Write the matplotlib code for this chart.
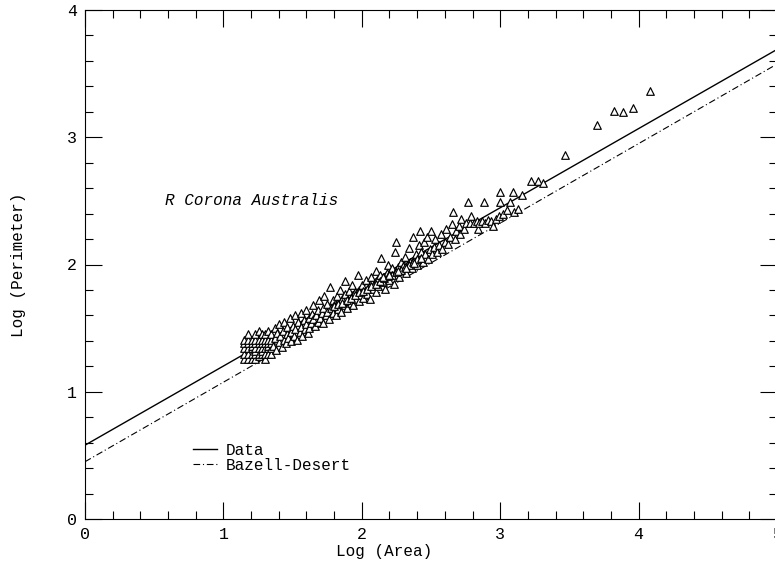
import numpy as np
import matplotlib
matplotlib.use("Agg")
import matplotlib.pyplot as plt

# log(area), log(perimeter) of the cloud boundaries
log_area = [
    # small clouds, quantised grid
    1.146, 1.146, 1.146, 1.146, 1.146,
    1.176, 1.176, 1.176, 1.176, 1.176, 1.176,
    1.204, 1.204, 1.204, 1.204, 1.204, 1.204,
    1.230, 1.230, 1.230, 1.230, 1.230, 1.230, 1.230,
    1.255, 1.255, 1.255, 1.255, 1.255, 1.255,
    1.279, 1.279, 1.279, 1.279, 1.279, 1.279,
    1.301, 1.301, 1.301, 1.301, 1.301, 1.301,
    1.322, 1.322, 1.322, 1.322, 1.322, 1.322,
    1.342, 1.342, 1.342, 1.342, 1.342,
    # 1.36 - 1.62
    1.36, 1.37, 1.37, 1.38, 1.39, 1.40, 1.40, 1.41, 1.42, 1.43, 1.44, 1.44,
    1.45, 1.46, 1.46, 1.47, 1.48, 1.49, 1.49, 1.50, 1.51, 1.52, 1.52, 1.53,
    1.54, 1.55, 1.56, 1.56, 1.57, 1.58, 1.59, 1.60, 1.60, 1.61, 1.62,
    # 1.62 - 2.0
    1.62, 1.63, 1.64, 1.65, 1.65, 1.66, 1.67, 1.68, 1.68, 1.69, 1.70, 1.71,
    1.72, 1.72, 1.73, 1.74, 1.75, 1.75, 1.76, 1.77, 1.78, 1.79, 1.79, 1.80,
    1.81, 1.82, 1.83, 1.84, 1.84, 1.85, 1.86, 1.87, 1.88, 1.88, 1.89, 1.90,
    1.91, 1.92, 1.93, 1.93, 1.94, 1.95, 1.96, 1.97, 1.98, 1.98, 1.99,
    # 2.0 - 2.5
    2.00, 2.01, 2.02, 2.03, 2.04, 2.05, 2.06, 2.07, 2.08, 2.09, 2.10, 2.10,
    2.11, 2.12, 2.13, 2.14, 2.15, 2.16, 2.17, 2.18, 2.19, 2.20, 2.21, 2.22,
    2.23, 2.24, 2.25, 2.25, 2.26, 2.27, 2.28, 2.29, 2.30, 2.31, 2.32, 2.33,
    2.34, 2.35, 2.36, 2.37, 2.38, 2.39, 2.40, 2.41, 2.42, 2.42, 2.43, 2.44,
    2.45, 2.46, 2.47, 2.48, 2.49, 2.50,
    # dense band just under the fit
    1.80, 1.83, 1.86, 1.89, 1.92, 1.95, 1.98, 2.01, 2.04, 2.07, 2.10, 2.13,
    2.16, 2.19, 2.22, 2.25, 2.28, 2.31, 2.34, 2.37, 2.40, 2.43,
    2.15, 2.20, 2.26, 2.32, 2.38,
    # 2.5 - 3.2
    2.51, 2.52, 2.53, 2.54, 2.56, 2.57, 2.58, 2.60, 2.61, 2.62, 2.64, 2.65,
    2.66, 2.67, 2.68, 2.70, 2.71, 2.72, 2.74, 2.75, 2.77, 2.78, 2.79, 2.81,
    2.83, 2.84, 2.85, 2.87, 2.88, 2.89, 2.91, 2.93, 2.95, 2.97, 2.99, 3.00,
    3.00, 3.02, 3.05, 3.07, 3.09, 3.10, 3.13, 3.16,
    # largest clouds
    3.225, 3.27, 3.31, 3.47, 3.70, 3.82, 3.89, 3.96, 4.08,
]
log_perim = [
    1.26, 1.30, 1.34, 1.38, 1.41,
    1.26, 1.30, 1.34, 1.38, 1.41, 1.45,
    1.26, 1.30, 1.34, 1.36, 1.38, 1.41,
    1.26, 1.30, 1.32, 1.34, 1.38, 1.41, 1.45,
    1.28, 1.30, 1.34, 1.38, 1.41, 1.48,
    1.30, 1.32, 1.34, 1.38, 1.41, 1.45,
    1.26, 1.30, 1.34, 1.38, 1.41, 1.45,
    1.30, 1.34, 1.36, 1.38, 1.41, 1.48,
    1.30, 1.34, 1.38, 1.41, 1.45,
    1.36, 1.42, 1.50, 1.33, 1.46, 1.39, 1.53, 1.44, 1.35, 1.48, 1.41, 1.55,
    1.38, 1.45, 1.51, 1.42, 1.58, 1.47, 1.40, 1.52, 1.44, 1.49, 1.60, 1.41,
    1.55, 1.47, 1.51, 1.62, 1.44, 1.56, 1.49, 1.53, 1.64, 1.46, 1.58,
    1.50, 1.54, 1.61, 1.57, 1.68, 1.52, 1.60, 1.64, 1.55, 1.72, 1.58, 1.62,
    1.66, 1.54, 1.75, 1.60, 1.63, 1.69, 1.57, 1.82, 1.66, 1.62, 1.72, 1.68,
    1.60, 1.75, 1.65, 1.70, 1.80, 1.63, 1.73, 1.68, 1.77, 1.87, 1.66, 1.72,
    1.79, 1.70, 1.75, 1.84, 1.68, 1.78, 1.73, 1.92, 1.80, 1.71, 1.76,
    1.84, 1.74, 1.79, 1.88, 1.77, 1.82, 1.73, 1.90, 1.81, 1.85, 1.78, 1.95,
    1.88, 1.83, 1.92, 2.05, 1.86, 1.90, 1.81, 1.93, 2.00, 1.88, 1.94, 1.97,
    1.85, 2.10, 1.95, 2.18, 1.98, 1.90, 2.02, 1.96, 1.99, 2.06, 1.93, 2.00,
    2.13, 2.02, 1.97, 2.22, 2.04, 2.08, 2.00, 2.15, 2.05, 2.26, 2.10, 2.02,
    2.18, 2.08, 2.22, 2.04, 2.12, 2.26,
    1.67, 1.69, 1.70, 1.72, 1.74, 1.76, 1.78, 1.79, 1.81, 1.83, 1.85, 1.87,
    1.89, 1.91, 1.92, 1.94, 1.96, 1.98, 2.00, 2.02, 2.04, 2.05,
    1.90, 1.92, 1.95, 1.97, 2.01,
    2.08, 2.14, 2.20, 2.10, 2.15, 2.24, 2.12, 2.18, 2.28, 2.16, 2.22, 2.32,
    2.41, 2.20, 2.26, 2.30, 2.24, 2.36, 2.28, 2.33, 2.49, 2.33, 2.38, 2.33,
    2.34, 2.28, 2.33, 2.34, 2.49, 2.33, 2.35, 2.34, 2.30, 2.36, 2.38, 2.49,
    2.57, 2.40, 2.43, 2.49, 2.57, 2.41, 2.44, 2.55,
    2.66, 2.655, 2.64, 2.86, 3.10, 3.21, 3.20, 3.23, 3.36,
]

# fitted relation and the Bazell-Desert relation: log P = a + b log A
fit_data = (0.58, 0.622)
fit_bd = (0.45, 0.625)

plt.rcParams['font.family'] = 'Liberation Mono'

fig = plt.figure(figsize=(7.75, 5.66), dpi=100)
ax = fig.add_axes([85 / 775, 47 / 566, 692 / 775, 509 / 566])

xl = np.array([0.0, 5.0])
ax.plot(xl, fit_data[0] + fit_data[1] * xl, color='black', lw=1.0,
        label='Data')
ax.plot(xl, fit_bd[0] + fit_bd[1] * xl, color='black', lw=0.8,
        dashes=(6, 2.5, 1, 2.5), label='Bazell-Desert')

ax.scatter(log_area, log_perim, marker='^', s=30, facecolors='white',
           edgecolors='black', linewidths=0.85, zorder=3)

ax.text(0.58, 2.5, 'R Corona Australis', fontstyle='italic', fontsize=11.5,
        va='center', ha='left')

ax.set_xlim(0, 5)
ax.set_ylim(0, 4)
ax.set_xticks([0, 1, 2, 3, 4, 5])
ax.set_yticks([0, 1, 2, 3, 4])
ax.set_xticks(np.arange(0, 5.01, 0.2), minor=True)
ax.set_yticks(np.arange(0, 4.01, 0.2), minor=True)
ax.tick_params(which='both', direction='in', top=True, right=True,
               labelsize=12, width=0.8, pad=6)
ax.tick_params(which='major', length=12)
ax.tick_params(which='minor', length=6)
for s in ax.spines.values():
    s.set_linewidth(0.8)

ax.set_xlabel('Log (Area)', fontsize=11.5)
ax.xaxis.set_label_coords((384 - 85) / 692, -0.05)
ax.set_ylabel('Log (Perimeter)', fontsize=11.5)
ax.yaxis.set_label_coords(-0.085, 0.5)

ax.legend(loc='lower left', bbox_to_anchor=(0.145, 0.075), frameon=False,
          fontsize=11.5, handlelength=1.5, handletextpad=0.5,
          labelspacing=0.0, borderpad=0)

fig.savefig('out.png', dpi=100)
